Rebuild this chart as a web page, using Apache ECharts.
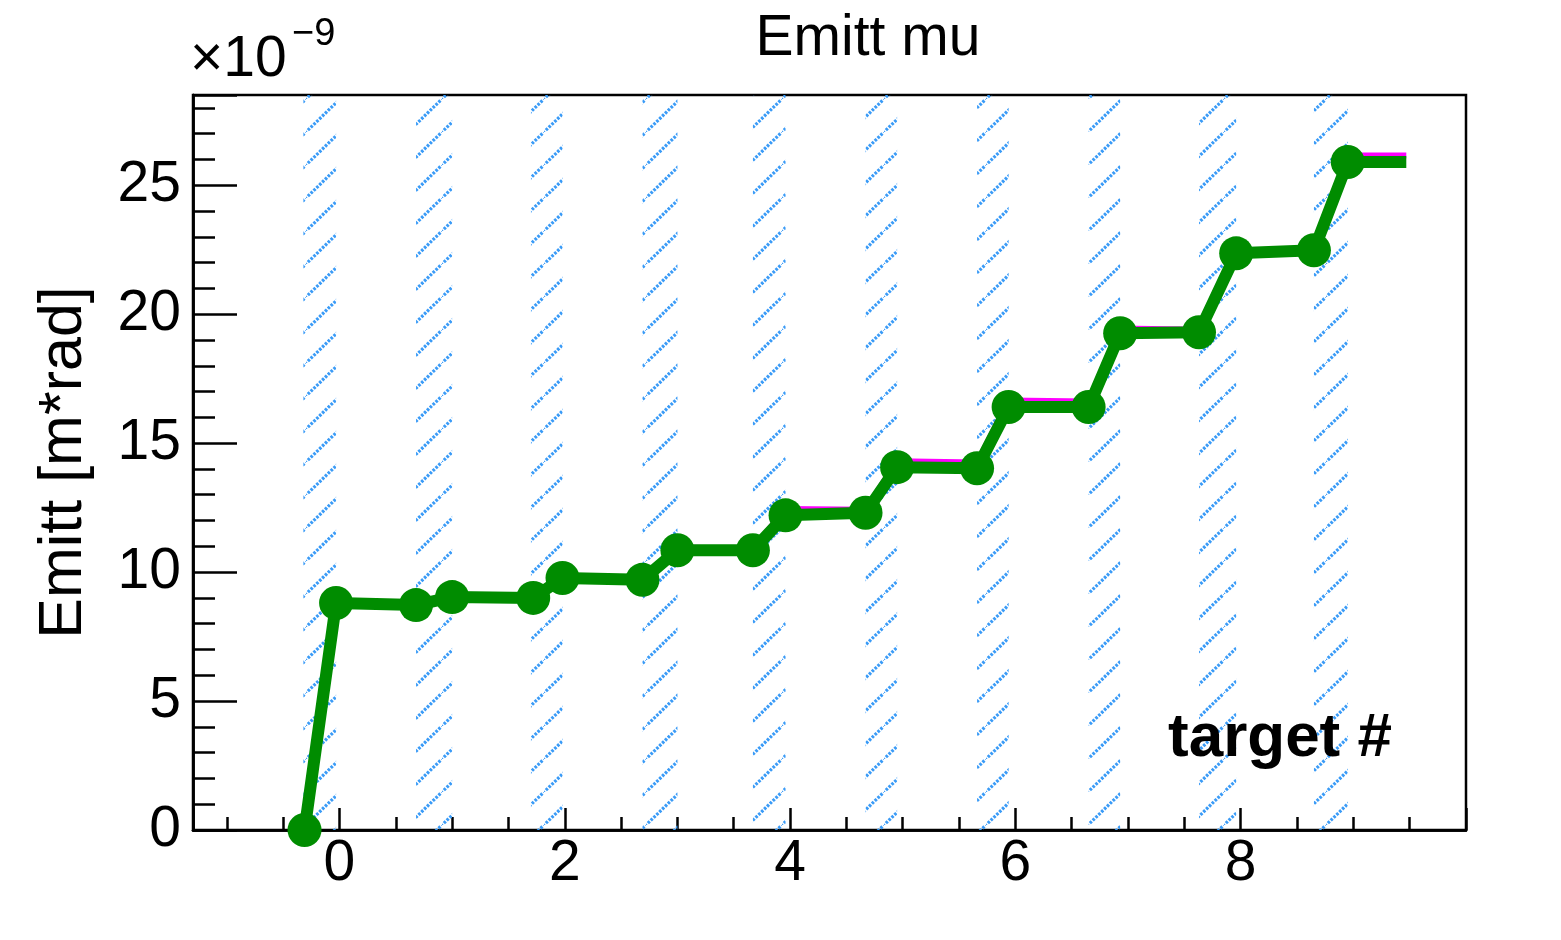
<!DOCTYPE html>
<html><head><meta charset="utf-8">
<script src="https://cdn.jsdelivr.net/npm/echarts@6/dist/echarts.min.js"></script>
<style>html,body{margin:0;padding:0;background:#fff}#c{width:1561px;height:940px}</style>
</head><body><div id="c"></div>
<script>
// ---- data ----
const titleText = 'Emitt mu';
const yAxisTitle = 'Emitt [m*rad]';
const exponentBase = '\u00d710';
const exponentPower = '\u22129';
const cornerLabel = 'target #';
const xMajorTicks = [0, 2, 4, 6, 8];
const yMajorTicks = [0, 5, 10, 15, 20, 25];
// hatched target regions (x start / end)
const targetStart = [-0.32, 0.68, 1.70, 2.69, 3.67, 4.67, 5.66, 6.65, 7.63, 8.65];
const targetEnd   = [-0.03, 1.00, 1.98, 3.00, 3.96, 4.95, 5.94, 6.93, 7.96, 8.95];
// green graph
const greenX = [-0.31, -0.03, 0.68, 1.00, 1.72, 1.98, 2.69, 3.00, 3.67, 3.96, 4.67, 4.95, 5.66, 5.94, 6.65, 6.93, 7.63, 7.96, 8.65, 8.95, 9.47];
const greenY = [0.00, 8.80, 8.72, 9.03, 9.00, 9.77, 9.70, 10.85, 10.85, 12.20, 12.30, 14.07, 14.03, 16.40, 16.40, 19.26, 19.30, 22.36, 22.48, 25.90, 25.90];
// magenta graph (mostly hidden under the green one)
const magentaY = [0.00, 8.85, 8.80, 9.08, 9.05, 9.82, 9.78, 10.95, 10.90, 12.45, 12.42, 14.30, 14.25, 16.65, 16.62, 19.45, 19.40, 22.40, 22.50, 26.15, 26.15];

// ---- chart ----
function hatchCanvas() {
  const c = document.createElement('canvas');
  c.width = 34; c.height = 33;
  const g = c.getContext('2d');
  g.strokeStyle = '#3a9bf7';
  g.lineWidth = 3.2;
  g.setLineDash([2.6, 1.4]);
  g.beginPath(); g.moveTo(-1, 34); g.lineTo(35, -1); g.stroke();
  return c;
}
const FONT = '"Liberation Sans", Arial, Helvetica, sans-serif';
const last = greenX.length - 1;
const greenData = greenX.map((x, i) => i === last ? { value: [x, greenY[i]], symbol: 'none' } : [x, greenY[i]]);
const magentaData = greenX.map((x, i) => [x, magentaY[i]]);
const bands = targetStart.map((s, i) => [{ xAxis: s }, { xAxis: targetEnd[i] }]);

const X_MIN = -1.3, X_MAX = 10, Y_MIN = 0, Y_MAX = 28.5;
const axisLineStyle = { show: true, onZero: false, lineStyle: { color: '#000', width: 2.5 } };

const chart = echarts.init(document.getElementById('c'), null, { renderer: 'canvas' });
chart.setOption({
  backgroundColor: '#fff',
  animation: false,
  title: {
    text: titleText, left: 863, top: 6, textAlign: 'center',
    textStyle: { fontFamily: FONT, fontSize: 57, fontWeight: 'normal', color: '#000' }
  },
  grid: { left: 193, right: 95, top: 95, bottom: 110, show: true, borderColor: '#000', borderWidth: 2.5, backgroundColor: 'transparent' },
  xAxis: [
    { type: 'value', min: X_MIN, max: X_MAX, position: 'bottom', minInterval: 0.5, maxInterval: 0.5, splitNumber: 22,
      axisLine: axisLineStyle, axisTick: { show: true, inside: true, length: 13, lineStyle: { color: '#000', width: 2.5 } },
      axisLabel: { show: false }, splitLine: { show: false } },
    { type: 'value', min: X_MIN, max: X_MAX, position: 'bottom', minInterval: 2, maxInterval: 2, splitNumber: 5,
      axisLine: axisLineStyle, axisTick: { show: true, inside: true, length: 22, lineStyle: { color: '#000', width: 2.5 } },
      axisLabel: { show: true, margin: 6, fontFamily: FONT, fontSize: 57, color: '#000',
        formatter: v => xMajorTicks.indexOf(Math.round(v * 1000) / 1000) >= 0 ? String(Math.round(v)) : '' },
      splitLine: { show: false } }
  ],
  yAxis: [
    { type: 'value', min: Y_MIN, max: Y_MAX, interval: 1, position: 'left',
      axisLine: axisLineStyle, axisTick: { show: true, inside: true, length: 22, lineStyle: { color: '#000', width: 2.5 } },
      axisLabel: { show: false }, splitLine: { show: false } },
    { type: 'value', min: Y_MIN, max: Y_MAX, interval: 5, position: 'left',
      axisLine: axisLineStyle, axisTick: { show: true, inside: true, length: 44, lineStyle: { color: '#000', width: 2.5 } },
      axisLabel: { show: true, margin: 12, fontFamily: FONT, fontSize: 57, color: '#000',
        formatter: v => yMajorTicks.indexOf(Math.round(v * 1000) / 1000) >= 0 ? String(Math.round(v)) : '' },
      name: yAxisTitle, nameLocation: 'middle', nameGap: 98, nameRotate: 90,
      nameTextStyle: { fontFamily: FONT, fontSize: 61, color: '#000' },
      splitLine: { show: false } }
  ],
  series: [
    { type: 'line', name: 'targets', data: [], z: 1, silent: true,
      markArea: { silent: true, itemStyle: { color: { image: hatchCanvas(), repeat: 'repeat' }, borderWidth: 0 },
        label: { show: false }, data: bands } },
    { type: 'line', name: 'magenta', data: magentaData, z: 3, xAxisIndex: 0, yAxisIndex: 0,
      showSymbol: false, symbol: 'none', lineStyle: { color: '#ff00ff', width: 6 }, silent: true },
    { type: 'line', name: 'green', data: greenData, z: 5, xAxisIndex: 0, yAxisIndex: 0,
      symbol: 'circle', symbolSize: 34, itemStyle: { color: '#008c00' },
      lineStyle: { color: '#008c00', width: 12, cap: 'butt', join: 'round' }, silent: true }
  ],
  graphic: [
    { type: 'text', left: 190, top: 32, style: { text: exponentBase, font: '57px ' + FONT, fill: '#000' } },
    { type: 'text', left: 292, top: 16, style: { text: exponentPower, font: '38px ' + FONT, fill: '#000' } },
    { type: 'text', left: 1168, top: 708, z: 10, style: { text: cornerLabel, font: 'bold 62px ' + FONT, fill: '#000' } }
  ]
});
</script>
</body></html>
